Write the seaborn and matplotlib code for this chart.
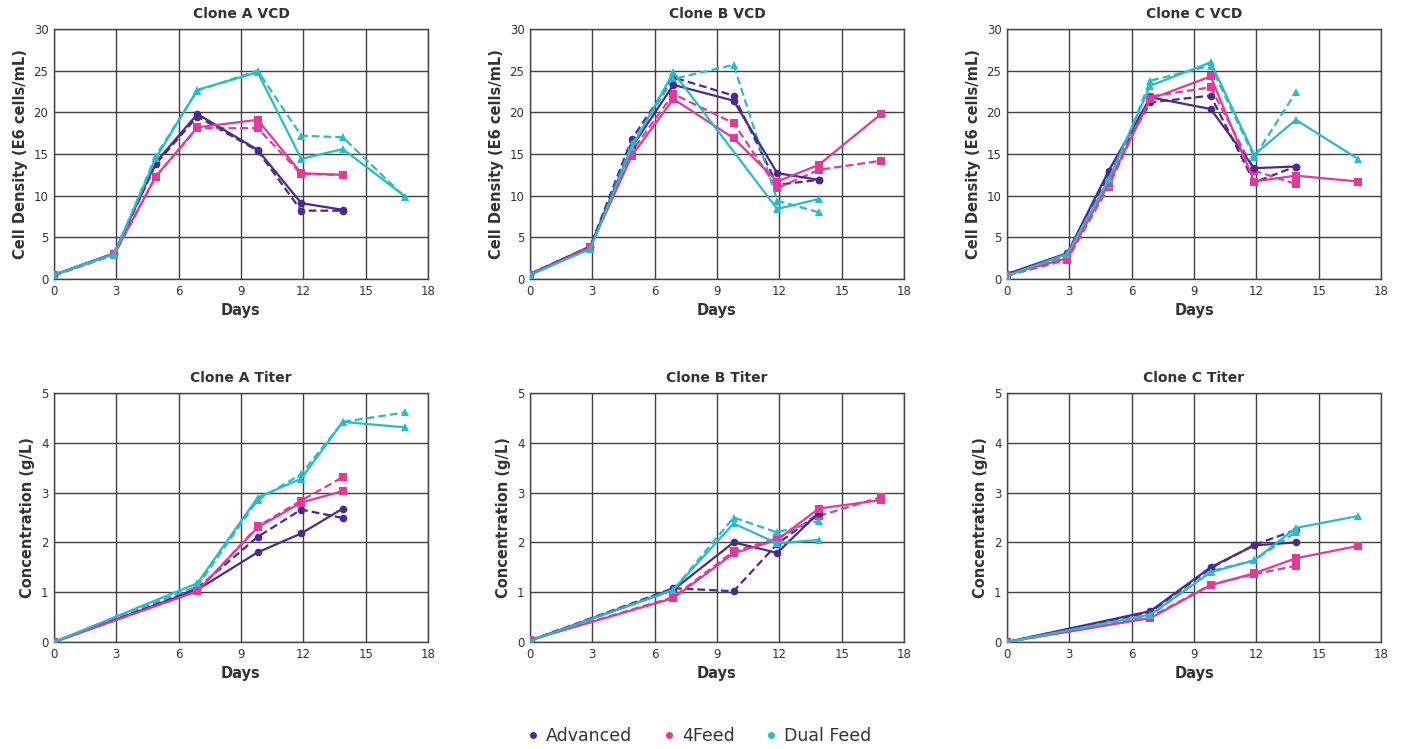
import numpy as np
import pandas as pd
import matplotlib
matplotlib.use("Agg")
import matplotlib.pyplot as plt
from matplotlib.lines import Line2D
import seaborn as sns

sns.set_theme(style="white")
plt.rcParams['font.family'] = ['DejaVu Sans']

# ---------------- data ----------------
days_vcd = [0, 2.9, 4.9, 6.9, 9.8, 11.9, 13.9, 16.9]
days_titer = [0, 6.9, 9.8, 11.9, 13.9, 16.9]
media = ["Advanced", "4Feed", "Dual Feed"]

# Clone A VCD (solid run, dashed run)
a_vcd_adv = [0.5, 3.1, 14.0, 19.8, 15.5, 9.1, 8.3, None]
a_vcd_adv_d = [0.5, 3.0, 13.8, 19.5, 15.4, 8.2, 8.2, None]
a_vcd_4f = [0.5, 3.0, 12.3, 18.2, 19.1, 12.7, 12.5, None]
a_vcd_4f_d = [0.4, 2.9, 12.3, 18.1, 18.1, 12.6, 12.5, None]
a_vcd_df = [0.5, 3.0, 14.5, 22.7, 24.8, 14.4, 15.6, 9.9]
a_vcd_df_d = [0.5, 2.9, 14.8, 22.6, 25.0, 17.2, 17.0, 9.8]

# Clone B VCD
b_vcd_adv = [0.6, 3.9, 15.8, 23.3, 21.4, 12.7, 11.9, None]
b_vcd_adv_d = [0.6, 3.9, 16.8, 24.2, 22.0, 11.3, 11.9, None]
b_vcd_4f = [0.5, 3.8, 14.8, 21.6, 16.9, 11.7, 13.7, 19.8]
b_vcd_4f_d = [0.5, 3.8, 15.3, 22.2, 18.7, 10.9, 13.1, 14.2]
b_vcd_df = [0.5, 3.6, 15.8, 24.8, None, 8.4, 9.6, None]
b_vcd_df_d = [0.5, 3.7, 16.2, 24.0, 25.7, 9.4, 8.0, None]

# Clone C VCD
c_vcd_adv = [0.6, 3.1, 13.0, 21.8, 20.4, 13.3, 13.5, None]
c_vcd_adv_d = [0.6, 2.8, 12.5, 21.2, 22.0, 11.6, 13.5, None]
c_vcd_4f = [0.5, 2.5, 11.5, 21.6, 24.3, 11.7, 12.4, 11.7]
c_vcd_4f_d = [0.4, 2.3, 11.1, 21.9, 23.0, 13.0, 11.4, None]
c_vcd_df = [0.4, 3.0, 12.0, 23.2, 26.0, 14.9, 19.1, 14.4]
c_vcd_df_d = [0.4, 2.7, 11.3, 23.8, 25.6, 14.6, 22.4, None]

# Clone A Titer
a_tit_adv = [0.0, 1.05, 1.80, 2.18, 2.68, None]
a_tit_adv_d = [0.0, 1.08, 2.11, 2.66, 2.49, None]
a_tit_4f = [0.0, 1.02, 2.30, 2.80, 3.03, None]
a_tit_4f_d = [0.0, 1.02, 2.32, 2.84, 3.31, None]
a_tit_df = [0.0, 1.18, 2.90, 3.28, 4.42, 4.31]
a_tit_df_d = [0.0, 1.12, 2.85, 3.37, 4.42, 4.61]

# Clone B Titer
b_tit_adv = [0.03, 1.05, 2.00, 1.79, 2.60, None]
b_tit_adv_d = [0.03, 1.08, 1.02, 1.97, 2.58, None]
b_tit_4f = [0.04, 0.88, 1.78, 2.05, 2.68, 2.85]
b_tit_4f_d = [0.04, 0.90, 1.82, 2.08, 2.53, 2.91]
b_tit_df = [0.02, 1.05, 2.38, 1.98, 2.05, None]
b_tit_df_d = [0.02, 1.05, 2.50, 2.20, 2.43, None]

# Clone C Titer
c_tit_adv = [0.0, 0.62, 1.50, 1.94, 2.00, None]
c_tit_adv_d = [0.0, 0.60, 1.48, 1.95, 2.25, None]
c_tit_4f = [0.0, 0.48, 1.14, 1.38, 1.68, 1.93]
c_tit_4f_d = [0.0, 0.50, 1.15, 1.36, 1.53, None]
c_tit_df = [0.0, 0.55, 1.40, 1.64, 2.29, 2.53]
c_tit_df_d = [0.0, 0.53, 1.42, 1.64, 2.21, None]

panels = [
    ("Clone A VCD", "vcd", [a_vcd_adv, a_vcd_adv_d, a_vcd_4f, a_vcd_4f_d, a_vcd_df, a_vcd_df_d]),
    ("Clone B VCD", "vcd", [b_vcd_adv, b_vcd_adv_d, b_vcd_4f, b_vcd_4f_d, b_vcd_df, b_vcd_df_d]),
    ("Clone C VCD", "vcd", [c_vcd_adv, c_vcd_adv_d, c_vcd_4f, c_vcd_4f_d, c_vcd_df, c_vcd_df_d]),
    ("Clone A Titer", "titer", [a_tit_adv, a_tit_adv_d, a_tit_4f, a_tit_4f_d, a_tit_df, a_tit_df_d]),
    ("Clone B Titer", "titer", [b_tit_adv, b_tit_adv_d, b_tit_4f, b_tit_4f_d, b_tit_df, b_tit_df_d]),
    ("Clone C Titer", "titer", [c_tit_adv, c_tit_adv_d, c_tit_4f, c_tit_4f_d, c_tit_df, c_tit_df_d]),
]

# ---------------- style ----------------
colors = {"Advanced": "#4a2a92", "4Feed": "#e8379a", "Dual Feed": "#27bccb"}
markers = {"Advanced": "o", "4Feed": "s", "Dual Feed": "^"}
msizes = {"Advanced": 5.5, "4Feed": 6, "Dual Feed": 5.5}
grid_c = "#404040"
text_c = "#333333"

fig = plt.figure(figsize=(14.02, 7.49), dpi=100)

lefts = [54 / 1402, 530 / 1402, 1007 / 1402]
w = 374 / 1402
rows = [(1 - 279 / 749, 250 / 749), (1 - 642 / 749, 249 / 749)]

for i, (title, kind, series) in enumerate(panels):
    r, c = divmod(i, 3)
    b, h = rows[r]
    ax = fig.add_axes([lefts[c], b, w, h])
    days = days_vcd if kind == "vcd" else days_titer
    for j, vals in enumerate(series):
        m = media[j // 2]
        dashed = j % 2 == 1
        df = pd.DataFrame({"day": days, "val": [np.nan if v is None else v for v in vals]}).dropna()
        sns.lineplot(data=df, x="day", y="val", ax=ax, color=colors[m], marker=markers[m],
                     markersize=msizes[m], markeredgewidth=0, linewidth=1.6,
                     linestyle=(0, (3.5, 1.8)) if dashed else "-", legend=False,
                     zorder=3 if not dashed else 2.5)
    ax.set_xlim(0, 18)
    ax.set_xticks(range(0, 19, 3))
    if kind == "vcd":
        ax.set_ylim(0, 30)
        ax.set_yticks(range(0, 31, 5))
        ax.set_ylabel("Cell Density (E6 cells/mL)", fontsize=10.5, fontweight="bold", color=text_c, labelpad=4)
    else:
        ax.set_ylim(0, 5)
        ax.set_yticks(range(0, 6))
        ax.set_ylabel("Concentration (g/L)", fontsize=10.5, fontweight="bold", color=text_c, labelpad=4)
    ax.set_xlabel("Days", fontsize=10.5, fontweight="bold", color=text_c, labelpad=4)
    ax.set_title(title, fontsize=10, fontweight="bold", color=text_c, pad=8)
    ax.grid(True, color=grid_c, linewidth=1.0)
    ax.set_axisbelow(True)
    for s in ax.spines.values():
        s.set_color("#444444")
        s.set_linewidth(1.0)
    ax.tick_params(axis="both", length=0, labelsize=8.5, labelcolor=text_c, pad=4)

handles = [Line2D([], [], linestyle="none", marker="o", markersize=5, markeredgewidth=0,
                  color=colors[m], label=m) for m in media]
fig.legend(handles=handles, loc="center", bbox_to_anchor=(698 / 1402, 1 - 736 / 749),
           ncol=3, frameon=False, fontsize=12.5, handletextpad=0.25, columnspacing=1.6,
           labelcolor=text_c, handlelength=1.0)

fig.savefig("out.png", dpi=100)
